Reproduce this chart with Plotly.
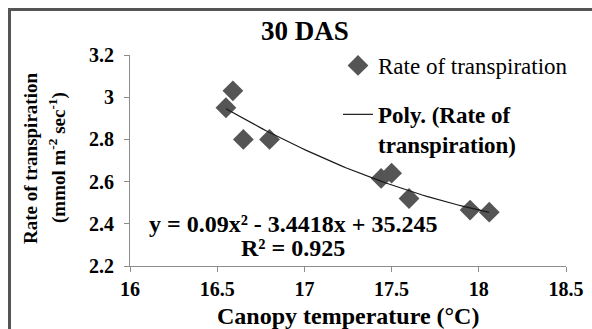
import numpy as np
import plotly.graph_objects as go

# Data
canopy_temp = [16.55, 16.59, 16.65, 16.80, 17.44, 17.50, 17.60, 17.95, 18.06]
transpiration = [2.95, 3.03, 2.80, 2.80, 2.615, 2.64, 2.52, 2.465, 2.455]

x_ticks = [16, 16.5, 17, 17.5, 18, 18.5]
x_tick_labels = ["16", "16.5", "17", "17.5", "18", "18.5"]
y_ticks = [2.2, 2.4, 2.6, 2.8, 3.0, 3.2]
y_tick_labels = ["2.2", "2.4", "2.6", "2.8", "3", "3.2"]

title_text = "30 DAS"
series_name = "Rate of transpiration"
trend_name = "<b>Poly. (Rate of<br>transpiration)</b>"
equation_text = "y = 0.09x² - 3.4418x + 35.245"
r2_text = "R² = 0.925"
x_title = "Canopy temperature (°C)"
y_title_1 = "Rate of transpiration"
y_title_2 = "(mmol m<sup>-2</sup> sec<sup>-1</sup>)"

# Polynomial (order 2) trendline fitted to the data
coef = np.polyfit(canopy_temp, transpiration, 2)
xt = np.linspace(min(canopy_temp), max(canopy_temp), 60)
yt = np.polyval(coef, xt)

FONT = "Liberation Serif"

W, H = 592, 329
# outer frame: the whole "paper" starts at the frame's top-left corner
ML, MT = 11, 11
PW, PH = W - ML, H - MT
# inner plot-area pixel box
PL, PR, PT, PB = 130, 566, 55, 266


def px(xp):
    return (xp - ML) / PW


def py(yp):
    return (H - yp) / PH


fig = go.Figure()
fig.add_trace(go.Scatter(
    x=canopy_temp, y=transpiration, mode="markers", name=series_name,
    marker=dict(symbol="diamond", size=16, color="#555555", line=dict(width=0)),
    legendgroup="a",
))
fig.add_trace(go.Scatter(
    x=xt.tolist(), y=yt.tolist(), mode="lines", name=trend_name,
    line=dict(color="#1a1a1a", width=1.2),
    legendgroup="b",
))
# invisible trace carrying the frame axes
fig.add_trace(go.Scatter(x=[0], y=[0], xaxis="x2", yaxis="y2", mode="markers",
                         marker=dict(opacity=0), showlegend=False, hoverinfo="skip"))

axis_common = dict(showgrid=False, zeroline=False, showline=True,
                   linecolor="#8c8c8c", linewidth=1, ticks="outside",
                   ticklen=5, tickcolor="#8c8c8c", tickfont=dict(size=20, family=FONT))

fig.update_layout(
    width=W, height=H,
    margin=dict(l=ML, r=0, t=MT, b=0, autoexpand=False),
    paper_bgcolor="white", plot_bgcolor="rgba(0,0,0,0)",
    font=dict(family=FONT, color="black"),
    title=dict(text="<b>" + title_text + "</b>", x=305 / W, xanchor="center",
               y=1 - 31 / H, yanchor="middle", font=dict(size=27, family=FONT)),
    showlegend=True,
    legend=dict(x=px(338), xanchor="left", y=py(44), yanchor="top",
                font=dict(size=23, family=FONT), tracegroupgap=16,
                valign="top", bgcolor="rgba(0,0,0,0)"),
    xaxis=dict(domain=[px(PL), px(PR)], anchor="y", range=[16, 18.5], tickvals=x_ticks,
               ticktext=["<b>%s</b>" % t for t in x_tick_labels], **axis_common),
    yaxis=dict(domain=[py(PB), py(PT)], anchor="x", range=[2.2, 3.2], tickvals=y_ticks,
               ticktext=["<b>%s</b>" % t for t in y_tick_labels],
               ticklabelstandoff=6, **axis_common),
    xaxis2=dict(domain=[0, 1], anchor="y2", side="top", range=[0, 1], showgrid=False,
                zeroline=False, showticklabels=False, ticks="", showline=True,
                linecolor="#555555", linewidth=2.5),
    yaxis2=dict(domain=[0, 1], anchor="x2", side="left", range=[0, 1], showgrid=False,
                zeroline=False, showticklabels=False, ticks="", showline=True,
                linecolor="#555555", linewidth=2.5),
)

fig.add_annotation(text="<b>" + equation_text + "</b>", xref="paper", yref="paper",
                   x=px(293), y=py(224), xanchor="center", yanchor="middle",
                   showarrow=False, font=dict(size=24, family=FONT))
fig.add_annotation(text="<b>" + r2_text + "</b>", xref="paper", yref="paper",
                   x=px(293), y=py(248), xanchor="center", yanchor="middle",
                   showarrow=False, font=dict(size=24, family=FONT))
fig.add_annotation(text="<b>" + x_title + "</b>", xref="paper", yref="paper",
                   x=px(348), y=py(316), xanchor="center", yanchor="middle",
                   showarrow=False, font=dict(size=24, family=FONT))
fig.add_annotation(text="<b>" + y_title_1 + "</b>", xref="paper", yref="paper",
                   x=px(30), y=py(159), xanchor="center", yanchor="middle",
                   showarrow=False, textangle=-90, font=dict(size=19, family=FONT))
fig.add_annotation(text="<b>" + y_title_2 + "</b>", xref="paper", yref="paper",
                   x=px(57), y=py(158), xanchor="center", yanchor="middle",
                   showarrow=False, textangle=-90, font=dict(size=19, family=FONT))

fig.write_html("out.html", config={"displayModeBar": False},
               post_script="document.body.style.margin='0';document.body.style.overflow='hidden';")
